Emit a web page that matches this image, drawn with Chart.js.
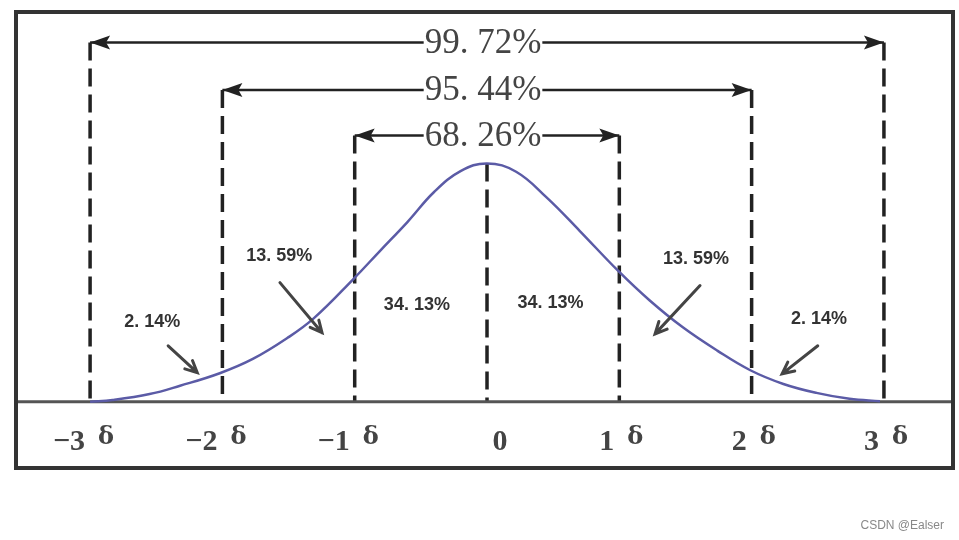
<!DOCTYPE html>
<html>
<head>
<meta charset="utf-8">
<script src="https://cdn.jsdelivr.net/npm/chart.js@4.4.0/dist/chart.umd.min.js"></script>
<style>
    html, body { margin: 0; padding: 0; background: #fff; }
    #wrap { width: 959px; height: 540px; position: relative; }
</style>
</head>
<body>
<div id="wrap"><canvas id="chart"></canvas></div>
<script>
(function() {
    'use strict';

    // bell curve (x in sigma, y in density)
    var curveX = [-3.0, -2.83, -2.55, -2.32, -2.02, -1.77, -1.51, -1.31, -1.01, -0.81, -0.6, -0.4, -0.2, 0, 0.22, 0.45, 0.70, 0.99, 1.23, 1.48, 1.74, 1.99, 2.24, 2.49, 2.74, 2.97];
    var curveY = [0, 0.003, 0.013, 0.027, 0.048, 0.072, 0.107, 0.140, 0.206, 0.253, 0.302, 0.352, 0.387, 0.400, 0.386, 0.343, 0.287, 0.220, 0.170, 0.125, 0.086, 0.053, 0.030, 0.015, 0.005, 0.001];

    // x axis ticks
    var tickValues = [-3, -2, -1, 0, 1, 2, 3];
    var tickNums = ['\u22123', '\u22122', '\u22121', '0', '1', '2', '3'];
    var tickUnit = '\u03b4';

    // dashed guides: where each one stops at the top
    var guideTop = [0.603, 0.523, 0.447, 0.400, 0.447, 0.523, 0.603];

    // coverage arrows
    var rangeLabels = ['99. 72%', '95. 44%', '68. 26%'];
    var rangeHalf = [3, 2, 1];
    var rangeLevel = [0.603, 0.523, 0.447];

    // area labels
    var regionLabels = ['2. 14%', '13. 59%', '34. 13%', '34. 13%', '13. 59%', '2. 14%'];
    var regionX = [-2.53, -1.57, -0.53, 0.48, 1.58, 2.51];
    var regionY = [0.134, 0.245, 0.163, 0.165, 0.240, 0.139];

    // small pointer arrows
    var pointerFromX = [-2.41, -1.565, 1.61, 2.50];
    var pointerFromY = [0.094, 0.200, 0.195, 0.094];
    var pointerToX = [-2.19, -1.247, 1.27, 2.23];
    var pointerToY = [0.049, 0.116, 0.114, 0.047];

    var X_MIN = -3.56, X_MAX = 3.522;
    var Y_MIN = -0.111, Y_MAX = 0.654;

    var datasets = [];

    datasets.push({
        label: 'curve',
        data: curveX.map(function(x, i) { return { x: x, y: curveY[i] }; }),
        showLine: true,
        borderColor: '#5b5ba6',
        borderWidth: 2.5,
        pointRadius: 0,
        tension: 0.4,
        order: 0
    });

    datasets.push({
        label: 'baseline',
        data: [{ x: X_MIN, y: 0 }, { x: X_MAX, y: 0 }],
        showLine: true,
        borderColor: '#555',
        borderWidth: 3,
        pointRadius: 0,
        order: 1
    });

    tickValues.forEach(function(v, i) {
        datasets.push({
            label: 'guide' + v,
            data: [{ x: v, y: guideTop[i] }, { x: v, y: 0 }],
            showLine: true,
            borderColor: '#222',
            borderWidth: 3.5,
            borderDash: [18, 8],
            pointRadius: 0,
            order: 2
        });
    });

    rangeHalf.forEach(function(h, i) {
        datasets.push({
            label: 'range' + h,
            data: [{ x: -h, y: rangeLevel[i] }, { x: h, y: rangeLevel[i] }],
            showLine: true,
            borderColor: '#222',
            borderWidth: 2.5,
            pointRadius: 0,
            order: 3
        });
    });

    var decorPlugin = {
        id: 'decor',
        afterDatasetsDraw: function(chart) {
            var ctx = chart.ctx;
            var xs = chart.scales.x;
            var ys = chart.scales.y;
            var area = chart.chartArea;
            var i;

            ctx.save();

            // frame
            ctx.strokeStyle = '#333';
            ctx.lineWidth = 4;
            ctx.strokeRect(area.left, area.top, area.right - area.left, area.bottom - area.top);

            // coverage labels and arrow heads
            ctx.font = '35px "Liberation Serif", "DejaVu Serif", serif';
            ctx.textAlign = 'center';
            ctx.textBaseline = 'middle';
            for (i = 0; i < rangeLabels.length; i++) {
                var cy = ys.getPixelForValue(rangeLevel[i]);
                var cx = xs.getPixelForValue(0) - 4;
                var w = ctx.measureText(rangeLabels[i]).width;
                ctx.fillStyle = '#fff';
                ctx.fillRect(cx - w / 2 - 1, cy - 14, w + 2, 28);
                ctx.fillStyle = '#444';
                ctx.fillText(rangeLabels[i], cx, cy + 1);

                [-1, 1].forEach(function(side) {
                    var tx = xs.getPixelForValue(side * rangeHalf[i]);
                    ctx.fillStyle = '#222';
                    ctx.beginPath();
                    ctx.moveTo(tx, cy);
                    ctx.lineTo(tx - side * 20, cy - 7);
                    ctx.lineTo(tx - side * 16, cy);
                    ctx.lineTo(tx - side * 20, cy + 7);
                    ctx.closePath();
                    ctx.fill();
                });
            }

            // area labels
            ctx.font = 'bold 18px "Liberation Sans", Arial, sans-serif';
            ctx.fillStyle = '#333';
            for (i = 0; i < regionLabels.length; i++) {
                ctx.fillText(regionLabels[i], xs.getPixelForValue(regionX[i]), ys.getPixelForValue(regionY[i]));
            }

            // pointer arrows
            ctx.strokeStyle = '#444';
            ctx.lineWidth = 3;
            ctx.lineCap = 'round';
            for (i = 0; i < pointerFromX.length; i++) {
                var x1 = xs.getPixelForValue(pointerFromX[i]);
                var y1 = ys.getPixelForValue(pointerFromY[i]);
                var x2 = xs.getPixelForValue(pointerToX[i]);
                var y2 = ys.getPixelForValue(pointerToY[i]);
                var ang = Math.atan2(y2 - y1, x2 - x1);
                ctx.beginPath();
                ctx.moveTo(x1, y1);
                ctx.lineTo(x2, y2);
                ctx.moveTo(x2 - 13 * Math.cos(ang - 0.45), y2 - 13 * Math.sin(ang - 0.45));
                ctx.lineTo(x2, y2);
                ctx.lineTo(x2 - 13 * Math.cos(ang + 0.45), y2 - 13 * Math.sin(ang + 0.45));
                ctx.stroke();
            }

            // tick labels
            var ty = ys.getPixelForValue(0) + 38;
            for (i = 0; i < tickValues.length; i++) {
                var px = xs.getPixelForValue(tickValues[i]);
                ctx.fillStyle = '#444';
                ctx.font = 'bold 30px "Liberation Serif", "DejaVu Serif", serif';
                if (tickValues[i] === 0) {
                    ctx.textAlign = 'center';
                    ctx.fillText(tickNums[i], px + 13, ty + 2);
                    continue;
                }
                ctx.textAlign = 'right';
                ctx.fillText(tickNums[i], px - 5, ty + 2);
                ctx.textAlign = 'left';
                ctx.font = 'bold 24px "DejaVu Serif", serif';
                ctx.fillText(tickUnit, px + 8, ty - 2);
            }

            // watermark
            ctx.font = '12px "Liberation Sans", Arial, sans-serif';
            ctx.fillStyle = '#888';
            ctx.textAlign = 'right';
            ctx.fillText('CSDN @Ealser', 944, 526);

            ctx.restore();
        }
    };

    var ctx = document.getElementById('chart').getContext('2d');
    new Chart(ctx, {
        type: 'scatter',
        data: { datasets: datasets },
        options: {
            responsive: true,
            maintainAspectRatio: false,
            animation: false,
            layout: {
                padding: { left: 16, top: 12, right: 6, bottom: 72 }
            },
            plugins: {
                legend: { display: false },
                tooltip: { enabled: false }
            },
            scales: {
                x: { type: 'linear', min: X_MIN, max: X_MAX, display: false },
                y: { type: 'linear', min: Y_MIN, max: Y_MAX, display: false }
            }
        },
        plugins: [decorPlugin]
    });
})();
</script>
</body>
</html>
